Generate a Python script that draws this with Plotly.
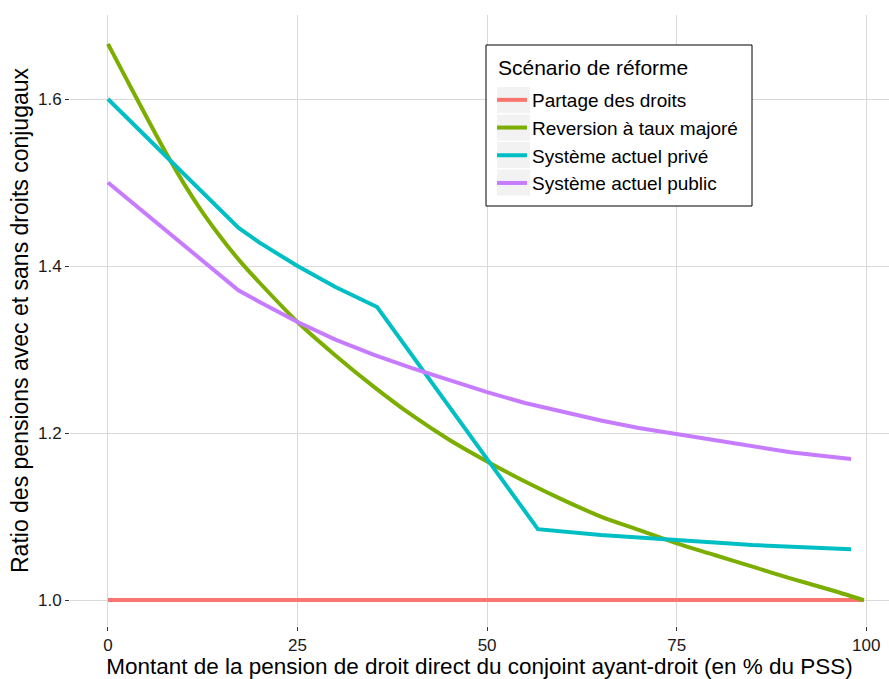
import plotly.graph_objects as go

# Data
partage_x = [0, 99.7]
partage_y = [1.0, 1.0]

reversion_x = [0, 2.5, 5, 7.5, 10, 12.5, 15, 17.5, 20, 25, 30, 35, 40, 45, 50, 55, 60, 65, 70, 75, 80, 85, 90, 95, 99.7]
reversion_y = [1.666, 1.623, 1.580, 1.538, 1.499, 1.464, 1.433, 1.405, 1.380, 1.333, 1.293, 1.256, 1.222, 1.192, 1.166, 1.142, 1.120, 1.100, 1.084, 1.068, 1.054, 1.040, 1.026, 1.013, 1.0]

prive_x = [0, 17.2, 20, 25, 30, 35.5, 56.7, 65, 75, 85, 98]
prive_y = [1.600, 1.446, 1.428, 1.400, 1.375, 1.351, 1.085, 1.078, 1.072, 1.066, 1.061]

public_x = [0, 17.2, 20, 25, 30, 35, 40, 45, 50, 55, 60, 65, 70, 75, 80, 85, 90, 95, 98]
public_y = [1.500, 1.371, 1.357, 1.333, 1.312, 1.294, 1.278, 1.263, 1.249, 1.236, 1.225, 1.215, 1.206, 1.199, 1.191, 1.184, 1.177, 1.172, 1.169]

series_names = ["Partage des droits", "Reversion à taux majoré", "Système actuel privé", "Système actuel public"]
series_x = [partage_x, reversion_x, prive_x, public_x]
series_y = [partage_y, reversion_y, prive_y, public_y]
series_colors = ["#F8766D", "#7CAE00", "#00BFC4", "#C77CFF"]
series_shapes = ["linear", "spline", "linear", "linear"]

legend_title = "Scénario de réforme"
x_ticks = [0, 25, 50, 75, 100]
y_ticks = [1.0, 1.2, 1.4, 1.6]

W, H = 889, 679
ML, MR, MT, MB = 70, 0, 15, 53
PW, PH = W - ML - MR, H - MT - MB


def px_x(p):
    return (p - ML) / PW


def px_y(p):
    return (H - MB - p) / PH


fig = go.Figure()
for name, xs, ys, col, shp in zip(series_names, series_x, series_y, series_colors, series_shapes):
    fig.add_trace(go.Scatter(x=xs, y=ys, mode="lines", name=name,
                             line=dict(color=col, width=4, shape=shp, smoothing=0.8)))

# legend frame and key backgrounds (ggplot style)
shapes = [dict(type="rect", xref="paper", yref="paper", layer="above",
               x0=px_x(486), x1=px_x(752), y0=px_y(206), y1=px_y(45),
               fillcolor="white", line=dict(color="black", width=1))]
for i in range(len(series_names)):
    cy = 100 + 27.5 * i
    shapes.append(dict(type="rect", xref="paper", yref="paper", layer="above",
                       x0=px_x(497), x1=px_x(530), y0=px_y(cy + 13), y1=px_y(cy - 13),
                       fillcolor="#f2f2f2", line=dict(width=0)))

font_family = "Liberation Sans, Arial, sans-serif"
fig.update_layout(
    width=W, height=H,
    margin=dict(l=ML, r=MR, t=MT, b=MB, autoexpand=False),
    paper_bgcolor="white", plot_bgcolor="white",
    font=dict(family=font_family, color="black"),
    showlegend=True,
    shapes=shapes,
    annotations=[dict(text=legend_title, xref="paper", yref="paper",
                      x=px_x(496), y=px_y(68), xanchor="left", yanchor="middle",
                      showarrow=False, font=dict(size=21, color="black"))],
    legend=dict(
        font=dict(size=19, color="black"),
        x=px_x(492), y=px_y(81), xanchor="left", yanchor="top",
        bgcolor="rgba(0,0,0,0)", borderwidth=0,
        itemwidth=30,
    ),
)
fig.update_xaxes(
    range=[-5, 103.0], tickvals=x_ticks, ticktext=[str(v) for v in x_ticks],
    showgrid=True, gridcolor="#d9d9d9", gridwidth=1, zeroline=False,
    ticks="outside", ticklen=4, tickcolor="#333333", tickwidth=1,
    tickfont=dict(size=17, color="#1a1a1a"),
    title=dict(text="Montant de la pension de droit direct du conjoint ayant-droit (en % du PSS)",
               font=dict(size=22.5, color="black"), standoff=6),
    showline=False, automargin=False,
)
fig.update_yaxes(
    range=[0.969, 1.7006], tickvals=y_ticks, ticktext=["1.0", "1.2", "1.4", "1.6"],
    showgrid=True, gridcolor="#d9d9d9", gridwidth=1, zeroline=False,
    ticks="outside", ticklen=4, tickcolor="#333333", tickwidth=1,
    tickfont=dict(size=17, color="#1a1a1a"),
    title=dict(text="Ratio des pensions avec et sans droits conjugaux",
               font=dict(size=23, color="black"), standoff=2),
    showline=False, automargin=False,
)

fig.write_html("out.html", config={"displayModeBar": False},
               post_script="document.body.style.margin='0';")
